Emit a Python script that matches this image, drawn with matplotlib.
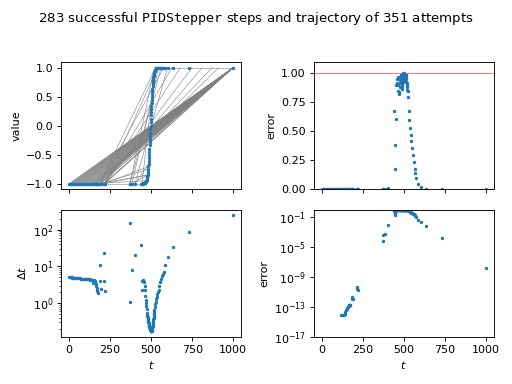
import matplotlib
matplotlib.use("Agg")
from matplotlib import pyplot as plt

# accepted steps
t = [0, 5, 10, 15, 20, 25, 30, 35, 40, 45, 50, 55, 60, 65, 70, 75, 80, 85, 90, 95,
     100, 105, 110, 115, 120, 125, 130, 135, 140,
     144, 148, 152, 156, 160, 164, 166, 168, 170, 172, 174, 187, 187, 192, 212, 215, 218,
     371, 372, 383, 401, 440, 444, 447, 450, 453,
     456, 460, 462, 464, 466, 468, 470, 472, 474,
     476, 477, 478, 479, 480, 481, 482, 483, 484, 485, 486, 487, 488, 489, 490,
     491, 492, 493, 494, 495, 496, 497, 498, 499, 500, 501, 502, 503, 504, 505,
     506, 507, 508, 509, 510, 511, 512, 513, 514, 515, 516, 517, 518, 519, 520,
     522, 524, 527, 530, 534, 538, 541, 545, 550, 555, 560, 565, 570, 576, 586, 602,
     633, 733, 1000]
dt = [5.1, 5.1, 5.0, 5.0, 4.9, 4.9, 4.9, 4.8, 4.8, 4.8, 4.7, 4.7, 4.7, 4.7, 4.6, 4.6,
      4.6, 4.6, 4.5, 4.5, 4.5, 4.5, 4.4, 4.4, 4.4, 4.4, 4.3, 4.3, 4.3,
      3.6, 4.2, 4.2, 4.1, 4.1, 3.3, 2.9, 2.6, 2.3, 2.1, 1.9, 4.0, 10.7, 2.4, 22.5, 4.0, 2.2,
      150, 1.1, 7.9, 21, 37.5, 2.3, 3.9, 4.2, 4.0,
      3.8, 3.0, 2.3, 1.54, 1.25, 1.0, 0.85, 0.7, 0.55,
      0.47, 0.44, 0.41, 0.38, 0.36, 0.34, 0.32, 0.30, 0.29, 0.27, 0.26, 0.25, 0.24, 0.23,
      0.22, 0.21, 0.2, 0.195, 0.19, 0.185, 0.18, 0.178, 0.175, 0.172, 0.17, 0.172, 0.175,
      0.178, 0.18, 0.19, 0.2, 0.21, 0.22, 0.24, 0.26, 0.28, 0.30, 0.33, 0.36, 0.40, 0.44,
      0.49, 0.55, 0.60, 0.65,
      0.78, 0.92, 1.1, 1.3, 1.5, 1.8, 2.0, 2.3, 2.9, 3.7, 4.5, 5.5, 6.3,
      7.2, 10.9, 17.6, 32.6, 88, 245]
value = [
    -1.0, -1.0, -1.0, -1.0, -1.0, -1.0, -1.0, -1.0, -1.0, -1.0, -1.0, -1.0, -1.0, -1.0,
    -1.0, -1.0, -1.0, -1.0, -1.0, -1.0, -1.0, -1.0, -1.0, -1.0, -1.0, -1.0, -1.0, -1.0, -1.0,
    -1.0, -1.0, -1.0, -1.0, -1.0, -1.0, -1.0, -1.0, -1.0, -1.0, -1.0, -1.0, -1.0, -1.0,
    -1.0, -1.0, -1.0,
    -1.0, -1.0, -1.0, -1.0, -1.0, -1.0, -1.0, -1.0, -0.995,
    -0.99, -0.985, -0.98, -0.975, -0.97, -0.96, -0.95, -0.93, -0.91,
    -0.88, -0.865, -0.85, -0.825, -0.80, -0.77, -0.74, -0.70, -0.66, -0.61, -0.56, -0.505,
    -0.45, -0.395, -0.34, -0.285, -0.23, -0.175, -0.12, -0.06, 0.0, 0.06, 0.12, 0.175,
    0.23, 0.285, 0.34, 0.395, 0.45, 0.50, 0.55, 0.595, 0.64, 0.68, 0.72, 0.755, 0.79,
    0.815, 0.84, 0.86, 0.88, 0.895, 0.91, 0.92, 0.93,
    0.95, 0.96, 0.975, 0.985, 0.99, 0.995, 0.997, 0.998, 1.0, 1.0, 1.0, 1.0, 1.0,
    1.0, 1.0, 1.0, 1.0, 1.0, 1.0]
err = [0, 0, 0, 0, 0, 0, 0, 0, 0, 0, 0, 0, 0, 0, 0, 0, 0, 0, 0, 0,
       0, 0, 0, 0, 1e-14, 1e-14, 1e-14, 1e-14, 1.2e-14,
       2.5e-14, 4e-14, 5e-14, 7e-14, 1.2e-13, 1.5e-13, 1.7e-13, 2e-13, 2e-13, 2.1e-13,
       2.2e-13, 2.5e-12, 1.3e-12, 1.2e-12, 5e-11, 3e-11, 2e-11,
       6e-5, 5e-4, 6e-4, 1e-2, 0.68, 0.18, 0.38, 0.61, 0.9,
       0.95, 0.92, 0.97, 0.90, 0.85, 0.83, 0.82, 0.84, 0.88,
       0.92, 0.94, 0.95, 0.97, 0.98, 0.99, 0.99, 0.98, 0.97, 0.95, 0.94, 0.92, 0.90, 0.88,
       0.87, 0.90, 0.93, 0.95, 0.97, 0.98, 0.99, 1.0, 1.0, 0.99, 0.98, 0.97, 0.96, 0.98,
       0.99, 0.98, 0.97, 0.95, 0.94, 0.96, 0.98, 0.99, 0.99, 0.97, 0.96, 0.95, 0.93, 0.92,
       0.90, 0.89, 0.88,
       0.86, 0.85, 0.80, 0.68, 0.60, 0.53, 0.47, 0.42, 0.36, 0.30, 0.24, 0.18, 0.14,
       0.10, 0.05, 0.025, 0.006, 2e-4, 1.6e-8]

# attempted steps that jumped straight to the end point
t_end, y_end = 1000, 1.0
jump_start = [0, 5, 10, 15, 20, 25, 30, 35, 40, 45, 50, 55, 60, 65, 70, 75, 80, 85, 90,
              95, 100, 105, 110, 115, 120, 125, 130, 135, 140, 144, 148, 152, 156, 160,
              164, 168, 172, 174, 187, 192, 212, 215, 218]
# other attempts: (t0, y0) -> (t1, y1)
att_t0 = [187, 192, 212, 215, 218, 212, 192, 187, 218, 371, 383, 401, 371,
          150, 175, 212, 218, 192, 383, 401, 444, 218, 401, 545]
att_y0 = [-1.0, -1.0, -1.0, -1.0, -1.0, -1.0, -1.0, -1.0, -1.0, -1.0, -1.0, -1.0, -1.0,
          -1.0, -1.0, -1.0, -1.0, -1.0, -1.0, -1.0, -1.0, -1.0, -1.0, 1.0]
att_t1 = [527, 576, 627, 678, 749, 811, 872, 912, 540, 520, 545, 600, 560,
          470, 480, 490, 478, 485, 478, 484, 500, 371, 444, 1000]
att_y1 = [1.0, 1.0, 1.0, 1.0, 1.0, 1.0, 1.0, 1.0, 1.0, 1.0, 1.0, 1.0, 1.0,
          -0.95, -0.85, -0.7, -0.85, -0.75, -0.85, -0.66, 0.4, -1.0, -1.0, 1.0]

n_ok = 283
n_att = 351

fig, axes = plt.subplots(2, 2, sharex=True, figsize=(6.4, 4.8), dpi=80)
fig.subplots_adjust(left=0.119, right=0.965, top=0.839, bottom=0.122,
                    hspace=0.157, wspace=0.40)
fig.suptitle(r"%d successful $\mathtt{PIDStepper}$ steps and trajectory of %d attempts"
             % (n_ok, n_att), y=0.975)

ax = axes[0][0]
for t0 in jump_start:
    ax.plot([t0, t_end], [-1.0, y_end], color='gray', lw=0.5)
for i in range(len(att_t0)):
    ax.plot([att_t0[i], att_t1[i]], [att_y0[i], att_y1[i]], color='gray', lw=0.5)
ax.plot(t, value, '.', color='C0', ms=4)
ax.set_ylabel("value")

ax = axes[0][1]
ax.axhline(1.0, color='r', alpha=0.5, lw=1)
ax.plot(t, err, '.', color='C0', ms=4)
ax.set_ylim(0, 1.1)
ax.set_yticks([0, 0.25, 0.5, 0.75, 1.0])
ax.set_ylabel("error")

ax = axes[1][0]
ax.plot(t, dt, '.', color='C0', ms=4)
ax.set_yscale('log')
ax.set_ylabel(r"$\Delta t$")
ax.set_xlabel(r"$t$")

ax = axes[1][1]
ax.axhline(1.0, color='r', alpha=0.5, lw=1)
err_pos = [e if e > 0 else float('nan') for e in err]
ax.plot(t, err_pos, '.', color='C0', ms=4)
ax.set_yscale('log')
ax.set_ylim(1e-17, 1.1)
ax.set_yticks([1e-17, 1e-13, 1e-9, 1e-5, 1e-1])
ax.set_ylabel("error")
ax.set_xlabel(r"$t$")

plt.savefig("out.png")
